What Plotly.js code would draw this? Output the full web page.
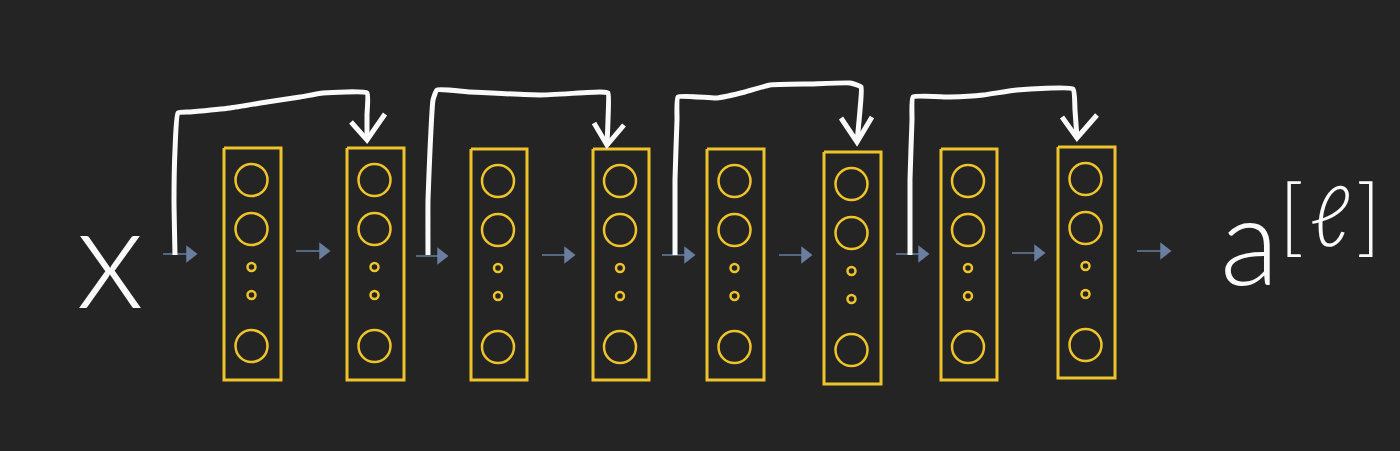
<!DOCTYPE html>
<html>
<head>
<meta charset="utf-8">
<script src="https://cdn.plot.ly/plotly-3.0.1.min.js"></script>
<style>
  html, body { margin: 0; padding: 0; background: #242424; }
  #grafico { width: 1400px; height: 451px; }
</style>
</head>
<body>
<div id="grafico"></div>
<script>
// layers of the plain network (pixel space, y grows downwards)
var layerLeft   = [224, 347, 471, 593, 707, 824, 941, 1058];
var layerRight  = [281, 404, 527, 649, 764, 881, 997, 1115];
var layerTop    = [148, 148, 149, 149, 149, 152, 149, 147];
var layerBottom = [380, 380, 380, 380, 380, 384, 380, 378];

// units inside each layer, measured from the layer top
var unitOffset = [32, 81, 119, 147, 198];
var unitBig    = [true, true, false, false, true];

// small blue arrows between layers
var arrowStart = [163, 296, 416, 542, 662, 779, 896, 1012, 1137];
var arrowEnd   = [197, 330, 448, 575, 695, 812, 929, 1045, 1171];
var arrowY     = [254, 251, 256, 255, 255, 255, 254, 253, 251];

// hand drawn skip connections
var skipX = [
  [175, 174, 175, 178, 190, 230, 267, 300, 323, 367, 367, 367],
  [428, 428, 430, 433, 437, 470, 540, 600, 608, 608, 607],
  [675, 675, 677, 678, 717, 745, 770, 810, 850, 861, 860, 857],
  [910, 910, 912, 913, 950, 983, 1017, 1073, 1075, 1077]
];
var skipY = [
  [255, 200, 150, 113, 112, 108, 102, 97, 93, 93, 115, 140],
  [255, 200, 150, 100, 90, 92, 95, 92, 93, 120, 145],
  [255, 180, 120, 97, 98, 92, 85, 84, 83, 87, 110, 142],
  [255, 180, 120, 97, 97, 95, 90, 89, 110, 138]
];
var wingX = [[351, 367, 385], [594, 607, 624], [841, 857, 872], [1062, 1077, 1097]];
var wingY = [[122, 140, 114], [123, 145, 125], [118, 142, 117], [117, 138, 115]];

var yellow = '#EEC42A';
var blue = '#6A7EA0';
var white = '#FAFAFA';

var traces = [];

// layer boxes
var bx = [], by = [];
for (var i = 0; i < layerLeft.length; i++) {
  bx.push(layerLeft[i], layerRight[i], layerRight[i], layerLeft[i], layerLeft[i], null);
  by.push(layerTop[i], layerTop[i], layerBottom[i], layerBottom[i], layerTop[i], null);
}
traces.push({x: bx, y: by, mode: 'lines', line: {color: yellow, width: 3}, hoverinfo: 'skip'});

// units (opacity set, otherwise an array of sizes makes it a dimmed bubble trace)
var ux = [], uy = [], us = [];
for (var i = 0; i < layerLeft.length; i++) {
  for (var j = 0; j < unitOffset.length; j++) {
    ux.push((layerLeft[i] + layerRight[i]) / 2 - 1);
    uy.push(layerTop[i] + unitOffset[j]);
    us.push(unitBig[j] ? 32 : 8);
  }
}
traces.push({x: ux, y: uy, mode: 'markers', hoverinfo: 'skip',
  marker: {symbol: 'circle-open', size: us, opacity: 1, color: yellow, line: {color: yellow, width: 2.5}}});

// blue arrows
var ax = [], ay = [], hx = [], hy = [];
for (var i = 0; i < arrowStart.length; i++) {
  ax.push(arrowStart[i], arrowEnd[i] - 10, null);
  ay.push(arrowY[i], arrowY[i], null);
  hx.push(arrowEnd[i] - 7);
  hy.push(arrowY[i]);
}
traces.push({x: ax, y: ay, mode: 'lines', line: {color: blue, width: 1.5}, hoverinfo: 'skip'});
traces.push({x: hx, y: hy, mode: 'markers', hoverinfo: 'skip',
  marker: {symbol: 'triangle-right', size: 15, color: blue, line: {width: 0}}});

// skip connections
for (var i = 0; i < skipX.length; i++) {
  traces.push({x: skipX[i], y: skipY[i], mode: 'lines', hoverinfo: 'skip',
    line: {color: white, width: 5, shape: 'spline', smoothing: 0.4}});
  traces.push({x: wingX[i], y: wingY[i], mode: 'lines', hoverinfo: 'skip',
    line: {color: white, width: 5}});
}

var handFont = {family: 'Lato, DejaVu Sans, sans-serif', color: white, weight: 300};

var layout = {
  width: 1400,
  height: 451,
  margin: {l: 0, r: 0, t: 0, b: 0},
  paper_bgcolor: '#242424',
  plot_bgcolor: '#242424',
  showlegend: false,
  xaxis: {range: [0, 1400], visible: false, fixedrange: true},
  yaxis: {range: [451, 0], visible: false, fixedrange: true},
  annotations: [
    {x: 110, y: 252, xref: 'x', yref: 'y', text: 'x', showarrow: false,
      font: Object.assign({}, handFont, {size: 145})},
    {x: 1249, y: 238, xref: 'x', yref: 'y', text: 'a', showarrow: false,
      font: Object.assign({}, handFont, {size: 122})},
    {x: 1330, y: 213, xref: 'x', yref: 'y', text: '[\u200aℓ\u200a]', showarrow: false,
      font: Object.assign({}, handFont, {size: 84})}
  ]
};

Plotly.newPlot('grafico', traces, layout, {displayModeBar: false, staticPlot: true});
</script>
</body>
</html>
